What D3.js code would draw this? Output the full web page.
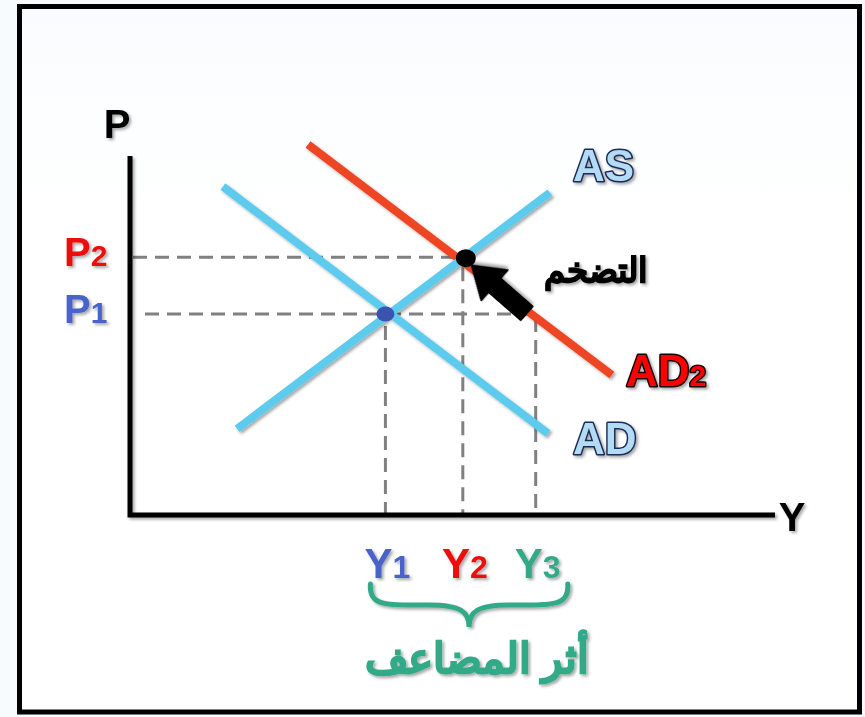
<!DOCTYPE html>
<html>
<head>
<meta charset="utf-8">
<script src="https://cdn.jsdelivr.net/npm/d3@7"></script>
<style>
  body { margin: 0; background: #f8fbfd; }
  svg { display: block; }
  text { font-family: "Liberation Sans", Arial, sans-serif; font-weight: bold; }
</style>
</head>
<body>
<svg id="chart" width="865" height="717"></svg>
<script>
// curve end points in chart units (x: output Y, y: price level P)
var as_line  = [[1.66, 2.40], [6.51, 8.98]];
var ad_line  = [[1.44, 9.15], [6.48, 2.27]];
var ad2_line = [[2.76, 10.32], [7.47, 3.90]];

// equilibrium levels
var y_levels = [3.96, 5.16, 6.29];       // Y1, Y2, Y3
var p_levels = [5.60, 7.18];             // P1, P2

var y_labels = ["Y1", "Y2", "Y3"];
var p_labels = ["P1", "P2"];
var y_label_colors = ["#4a64c8", "#ee1111", "#33aa88"];
var p_label_colors = ["#4a64c8", "#ee1111"];

// arrow from tail to tip, chart units
var arrow_pts = [[6.15, 5.62], [5.30, 6.95]];

chart();

function chart() {
    var svg = d3.select("#chart");

    var x = d3.scaleLinear().domain([0, 10]).range([130, 775]);
    var y = d3.scaleLinear().domain([0, 10]).range([515, 156]);

    var defs = svg.append("defs");
    var sh = defs.append("filter").attr("id", "shadow")
        .attr("x", "-20%").attr("y", "-20%").attr("width", "150%").attr("height", "150%");
    sh.append("feDropShadow").attr("dx", 2).attr("dy", 2).attr("stdDeviation", 1.5)
        .attr("flood-color", "#000").attr("flood-opacity", 0.35);

    var grad = defs.append("linearGradient").attr("id", "bg").attr("x1", 0).attr("y1", 0).attr("x2", 0).attr("y2", 1);
    grad.append("stop").attr("offset", "0%").attr("stop-color", "#f9fcfe");
    grad.append("stop").attr("offset", "30%").attr("stop-color", "#ffffff");

    // frame
    svg.append("rect")
        .attr("x", 19.5).attr("y", 6.5).attr("width", 840).attr("height", 705.5)
        .attr("fill", "url(#bg)").attr("stroke", "#000").attr("stroke-width", 5);

    // dashed guide lines
    var dash = svg.append("g").attr("class", "guides")
        .attr("stroke", "#808080").attr("stroke-width", 3).attr("stroke-dasharray", "14,8").attr("fill", "none");

    dash.append("line").attr("x1", x(0) + 3).attr("x2", x(y_levels[1])).attr("y1", y(p_levels[1])).attr("y2", y(p_levels[1]));
    dash.append("line").attr("x1", x(0) + 15).attr("x2", x(y_levels[2])).attr("y1", y(p_levels[0])).attr("y2", y(p_levels[0]));
    dash.append("line").attr("x1", x(y_levels[0])).attr("x2", x(y_levels[0])).attr("y1", y(p_levels[0]) + 12).attr("y2", y(0));
    dash.append("line").attr("x1", x(y_levels[1])).attr("x2", x(y_levels[1])).attr("y1", y(p_levels[1]) + 10).attr("y2", y(0));
    dash.append("line").attr("x1", x(y_levels[2])).attr("x2", x(y_levels[2])).attr("y1", y(p_levels[0]) + 4).attr("y2", y(0));

    // axes
    var axes = svg.append("g").attr("filter", "url(#shadow)");
    axes.append("path")
        .attr("d", d3.line()([[x(0), y(10)], [x(0), y(0)], [x(10), y(0)]]))
        .attr("fill", "none").attr("stroke", "#000").attr("stroke-width", 5);

    svg.append("text").attr("x", 117).attr("y", 138).attr("text-anchor", "middle")
        .attr("font-size", 40).attr("filter", "url(#shadow)").text("P");
    svg.append("text").attr("x", 792).attr("y", 531).attr("text-anchor", "middle")
        .attr("font-size", 40).attr("filter", "url(#shadow)").text("Y");

    // curves
    var line = d3.line().x(d => x(d[0])).y(d => y(d[1]));
    var curves = svg.append("g").attr("filter", "url(#shadow)").attr("fill", "none").attr("stroke-width", 8);
    curves.append("path").attr("d", line(ad2_line)).attr("stroke", "#ee4422");
    curves.append("path").attr("d", line(ad_line)).attr("stroke", "#5ccbee");
    curves.append("path").attr("d", line(as_line)).attr("stroke", "#5ccbee");

    // equilibrium dots
    svg.append("ellipse").attr("cx", x(y_levels[0])).attr("cy", y(p_levels[0]))
        .attr("rx", 9).attr("ry", 7.5).attr("fill", "#3a52b0");
    svg.append("ellipse").attr("cx", x(y_levels[1]) + 3).attr("cy", y(p_levels[1]) + 1)
        .attr("rx", 10).attr("ry", 9).attr("fill", "#000");

    // arrow
    var ax0 = x(arrow_pts[0][0]), ay0 = y(arrow_pts[0][1]);
    var ax1 = x(arrow_pts[1][0]), ay1 = y(arrow_pts[1][1]);
    var ang = Math.atan2(ay1 - ay0, ax1 - ax0) * 180 / Math.PI;
    var len = Math.hypot(ax1 - ax0, ay1 - ay0);
    svg.append("path")
        .attr("d", d3.line()([[0, -9], [len - 30, -9], [len - 30, -20], [len, 0], [len - 30, 20], [len - 30, 9], [0, 9]]) + "Z")
        .attr("transform", `translate(${ax0},${ay0}) rotate(${ang})`)
        .attr("fill", "#000").attr("stroke", "#000").attr("stroke-width", 2).attr("stroke-linejoin", "round")
        .attr("filter", "url(#shadow)");

    // curve labels
    var outl = svg.append("g").attr("font-size", 44).attr("paint-order", "stroke")
        .attr("stroke-width", 3).attr("stroke-linejoin", "round").attr("filter", "url(#shadow)");
    outl.append("text").attr("x", 573).attr("y", 181).attr("fill", "#b3dcf4").attr("stroke", "#1c2a5a").text("AS");
    outl.append("text").attr("x", 573).attr("y", 454).attr("fill", "#b3dcf4").attr("stroke", "#1c2a5a").text("AD");
    var ad2 = outl.append("text").attr("x", 626).attr("y", 386).attr("fill", "#ff0000").attr("stroke", "#1a0000");
    ad2.append("tspan").text("AD");
    ad2.append("tspan").attr("font-size", 30).text("2");

    svg.append("text").attr("x", 647).attr("y", 282).attr("text-anchor", "end")
        .attr("font-family", "'DejaVu Sans', sans-serif").attr("font-size", 34)
        .attr("fill", "#000").attr("stroke", "#000").attr("stroke-width", 1.2)
        .attr("filter", "url(#shadow)").text("التضخم");

    // P labels
    svg.selectAll("text.plab").data(p_levels).join("text").attr("class", "plab")
        .attr("x", 64).attr("y", d => y(d) + 9).attr("font-size", 40)
        .attr("fill", (d, i) => p_label_colors[i]).attr("filter", "url(#shadow)")
        .each(function(d, i) {
            var t = d3.select(this);
            t.append("tspan").text(p_labels[i][0]);
            t.append("tspan").attr("font-size", 30).text(p_labels[i].slice(1));
        });

    // Y labels
    svg.selectAll("text.ylab").data(y_levels).join("text").attr("class", "ylab")
        .attr("x", d => x(d) + 2).attr("y", 578).attr("text-anchor", "middle").attr("font-size", 42)
        .attr("fill", (d, i) => y_label_colors[i]).attr("filter", "url(#shadow)")
        .each(function(d, i) {
            var t = d3.select(this);
            t.append("tspan").text(y_labels[i][0]);
            t.append("tspan").attr("font-size", 32).text(y_labels[i].slice(1));
        });

    // brace under Y1..Y3
    var bx0 = x(y_levels[0]) - 15, bx1 = x(y_levels[2]) + 32, bm = (bx0 + bx1) / 2;
    var by = 584;
    svg.append("path")
        .attr("d", `M${bx0},${by} C${bx0 - 2},${by + 24} ${bx0 + 20},${by + 21} ${bm - 40},${by + 21}` +
                   ` C${bm - 8},${by + 21} ${bm},${by + 28} ${bm},${by + 43}` +
                   ` C${bm},${by + 28} ${bm + 8},${by + 21} ${bm + 40},${by + 21}` +
                   ` C${bx1 - 20},${by + 21} ${bx1 + 2},${by + 24} ${bx1},${by}`)
        .attr("fill", "none").attr("stroke", "#33aa88").attr("stroke-width", 5).attr("stroke-linecap", "round")
        .attr("filter", "url(#shadow)");

    svg.append("text").attr("x", bm + 8).attr("y", 673).attr("text-anchor", "middle")
        .attr("font-family", "'DejaVu Sans', sans-serif").attr("font-size", 42)
        .attr("fill", "#33aa88").attr("stroke", "#33aa88").attr("stroke-width", 1.4)
        .attr("filter", "url(#shadow)").text("أثر المضاعف");
}
</script>
</body>
</html>
